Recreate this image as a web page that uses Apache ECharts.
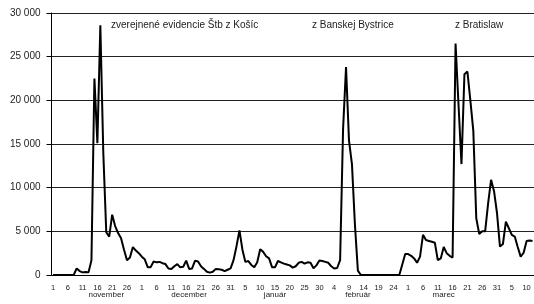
<!DOCTYPE html>
<html>
<head>
<meta charset="utf-8">
<script src="https://cdn.jsdelivr.net/npm/echarts@6/dist/echarts.min.js"></script>
<style>
  html, body { margin: 0; padding: 0; background: #fff; }
  #chart { width: 534px; height: 304px; }
</style>
</head>
<body>
<div id="chart"></div>
<script>
// denne hodnoty, november - april
var novValues = [0, 0, 0, 0, 0, 0, 0, 0, 750, 450, 300, 350, 300, 1700, 22500, 15100, 28600, 14000,
	4900, 4400, 6900, 5600, 4800, 4200, 2900, 1700, 2000, 3200, 2800, 2500];
var decValues = [2100, 1800, 900, 900, 1550, 1450, 1500, 1350, 1250, 750, 700, 1000, 1250, 880, 950,
	1650, 700, 750, 1650, 1550, 1000, 700, 380, 270, 380, 700, 650, 600, 450, 600, 750];
var janValues = [1700, 3300, 5100, 2900, 1500, 1600, 1150, 880, 1450, 2950, 2650, 2150, 1900, 900, 880,
	1600, 1450, 1300, 1200, 1100, 850, 1000, 1400, 1500, 1300, 1450, 1400, 780, 1100, 1650, 1600];
var febValues = [1500, 1400, 1000, 750, 800, 1700, 16700, 23800, 15400, 12700, 5800, 500,
	0, 0, 0, 0, 0, 0, 0, 0, 0, 0, 0, 0, 0, 0, 1200, 2400];
var marValues = [2400, 2200, 1900, 1400, 2100, 4600, 4000, 3900, 3800, 3700, 1700, 1900, 3200, 2500,
	2200, 2000, 26500, 19500, 12700, 23000, 23300, 20000, 16500, 6500, 4700, 5000, 5000, 8200, 10900,
	9600, 7100];
var aprValues = [3250, 3550, 6100, 5350, 4600, 4400, 3200, 2100, 2550, 3900, 3950, 3900];

var monthLengths = [30, 31, 31, 28, 31, 12];
var monthNames = ['november', 'december', 'január', 'február', 'marec'];
var monthLabelIdx = [18, 46, 75, 103, 132];
var yTicks = [0, 5000, 10000, 15000, 20000, 25000, 30000];

var notes = [
	{ text: 'zverejnené evidencie Štb z Košíc', x: 111 },
	{ text: 'z Banskej Bystrice', x: 312 },
	{ text: 'z Bratislaw', x: 455 }
];

var days = [];
for (var m = 0; m < monthLengths.length; m++) {
	for (var d = 1; d <= monthLengths[m]; d++) days.push(String(d));
}
var values = novValues.concat(decValues, janValues, febValues, marValues, aprValues);

var myChart = echarts.init(document.getElementById('chart'));
var font = 'Liberation Sans, Arial, sans-serif';

var option = {
	animation: false,
	grid: { left: 51.5, top: 13, width: days.length * 2.99, height: 262 },
	xAxis: [
		{
			type: 'category',
			data: days,
			boundaryGap: true,
			axisLine: { lineStyle: { color: '#000', width: 1 } },
			axisTick: { interval: 0, length: 3, lineStyle: { color: '#000' } },
			axisLabel: { interval: 4, margin: 9, fontSize: 7.5, color: '#222', fontFamily: font },
			splitLine: { show: false }
		},
		{
			type: 'category',
			data: days,
			position: 'bottom',
			boundaryGap: true,
			axisLine: { show: false },
			axisTick: { show: false },
			axisLabel: {
				margin: 16, fontSize: 8, color: '#222', fontFamily: font,
				interval: function (idx) { return monthLabelIdx.indexOf(idx) >= 0; },
				formatter: function (val, idx) {
					var k = monthLabelIdx.indexOf(idx);
					return k >= 0 ? monthNames[k] : '';
				}
			}
		}
	],
	yAxis: {
		type: 'value',
		min: yTicks[0],
		max: yTicks[yTicks.length - 1],
		interval: 5000,
		axisLine: { show: true, lineStyle: { color: '#000', width: 1 } },
		axisTick: { show: true, length: 5, lineStyle: { color: '#000' } },
		axisLabel: {
			margin: 11, fontSize: 10, color: '#222', fontFamily: font,
			formatter: function (v) {
				return String(v).replace(/\B(?=(\d{3})+(?!\d))/g, ' ');
			}
		},
		splitLine: { show: true, lineStyle: { color: '#222', width: 1 } }
	},
	graphic: notes.map(function (n) {
		return {
			type: 'text',
			left: n.x,
			top: 20,
			style: { text: n.text, fontSize: 10, fill: '#222', fontFamily: font }
		};
	}),
	series: [
		{
			type: 'line',
			data: values,
			xAxisIndex: 0,
			symbol: 'none',
			lineStyle: { color: '#000', width: 2 },
			clip: false
		}
	]
};

myChart.setOption(option);
</script>
</body>
</html>
